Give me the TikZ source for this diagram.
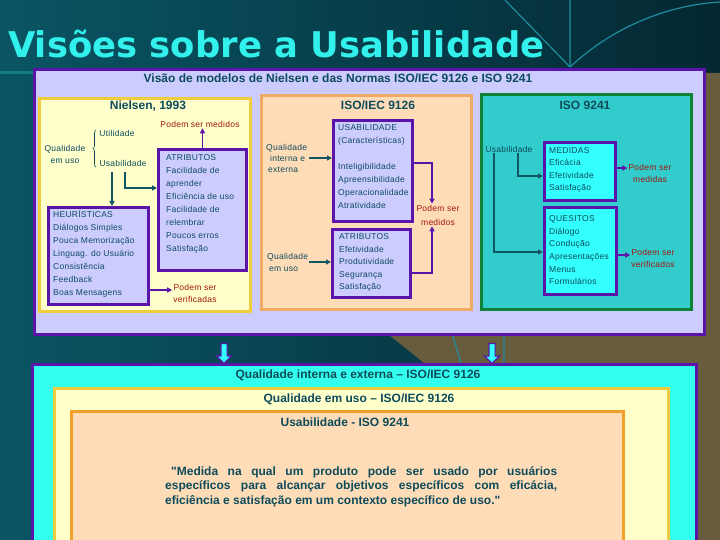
\documentclass[tikz,border=0pt]{standalone}
\usepackage{fontspec}
\setmainfont{Liberation Sans}
\newfontfamily\titlefont{DejaVu Sans}
\newfontfamily\boxfont[LetterSpace=3]{Liberation Sans}
\newcommand\aspas{\XeTeXglyph\XeTeXcharglyph34 }
\usetikzlibrary{arrows.meta,positioning,shapes.arrows,decorations.pathreplacing}
\definecolor{bgteal}{RGB}{10,85,100}
\definecolor{bgdark}{RGB}{4,40,50}
\definecolor{bgolive}{RGB}{104,92,62}
\definecolor{decoline}{RGB}{30,140,160}
\definecolor{titlecyan}{RGB}{50,240,235}
\definecolor{boxpurple}{RGB}{90,20,170}
\definecolor{lavender}{RGB}{204,204,255}
\definecolor{nyellow}{RGB}{240,205,60}
\definecolor{lightyellow}{RGB}{255,255,204}
\definecolor{peachline}{RGB}{240,170,100}
\definecolor{peach}{RGB}{255,220,184}
\definecolor{isogreen}{RGB}{16,130,56}
\definecolor{isoteal}{RGB}{51,204,204}
\definecolor{brightcyan}{RGB}{51,255,255}
\definecolor{aqua}{RGB}{51,255,238}
\definecolor{deeporange}{RGB}{240,160,40}
\definecolor{tealtxt}{RGB}{13,75,90}
\definecolor{arrteal}{RGB}{17,85,100}
\definecolor{podemred}{RGB}{160,20,10}

\begin{document}
\begin{tikzpicture}[x=1pt, y=-1pt,
  frame/.style={draw, line width=3pt, anchor=north west, inner sep=0pt},
  boxtxt/.style={anchor=north west, inner sep=0pt, align=left, text=tealtxt, font=\boxfont\fontsize{8.5}{#1}\selectfont},
  boxtxt/.default=13,
  lbl/.style={inner sep=1pt, align=center, text=tealtxt, font=\boxfont\fontsize{8.5}{#1}\selectfont},
  lbl/.default=12,
  podem/.style={lbl=#1, text=podemred},
  podem/.default=12,
  head/.style={text=tealtxt, font=\bfseries\fontsize{12}{14}\selectfont},
  tarr/.style={-{Triangle[length=5pt,width=5pt]}, line width=1.8pt, arrteal},
  parr/.style={-{Triangle[length=5pt,width=5pt]}, line width=1.8pt, boxpurple},
  blockarr/.style={single arrow, draw=boxpurple, fill=brightcyan, line width=1.2pt, shape border rotate=270, minimum height=20pt, inner sep=2.5pt, single arrow head extend=4.5pt}]
\useasboundingbox (0,0) rectangle (720,540);
\clip (0,0) rectangle (720,540);
\shade[left color=bgteal, right color=bgdark] (0,0) rectangle (720,540);
\fill[bgolive] (383,330) -- (700,330) -- (700,73) -- (720,73) -- (720,540) -- (644,540) -- cycle;
\fill[bgteal!75!titlecyan] (0,71) rectangle (33,74);
\draw[decoline, line width=1.2pt] (505,0) -- (570,67) (570,0) -- (570,67)
  (570,67) .. controls (615,25) and (670,5) .. (720,2)
  (452,333) -- (461,363) (504,333) -- (504,363);
\node[anchor=base west, inner sep=0pt, text=titlecyan, font=\titlefont\bfseries\fontsize{35.4}{40}\selectfont] (titulo) at (8,58) {Visões sobre a Usabilidade};

\node[frame, draw=boxpurple, fill=lavender, minimum width=670, minimum height=265] (visao) at (33,68) {};
\node[head] (visaotit) at (338,78) {Visão de modelos de Nielsen e das Normas ISO/IEC 9126 e ISO 9241};

\node[frame, draw=nyellow, fill=lightyellow, minimum width=211, minimum height=213] (nielsen) at (38,97) {};
\node[head] (nielsentit) at (148,106) {Nielsen, 1993};
\node[frame, draw=boxpurple, fill=lavender, minimum width=88, minimum height=121] (atr) at (157,148) {};
\node[frame, draw=boxpurple, fill=lavender, minimum width=100, minimum height=97] (heu) at (47,206) {};
\node[boxtxt] (atrtxt) at (166,154.5) {ATRIBUTOS\\Facilidade de\\aprender\\Eficiência de uso\\Facilidade de\\relembrar\\Poucos erros\\Satisfação};
\node[boxtxt] (heutxt) at (53,209.5) {HEURÍSTICAS\\Diálogos Simples\\Pouca Memorização\\Linguag. do Usuário\\Consistência\\Feedback\\Boas Mensagens};
\node[podem] (med1) at (200,124) {Podem ser medidos};
\node[lbl] (util) at (117,133) {Utilidade};
\node[lbl] (qual1) at (65,154) {Qualidade\\em uso};
\node[lbl] (usab1) at (123,163) {Usabilidade};
\node[podem] (verif1) at (195,293) {Podem ser\\verificadas};
\draw[decorate, decoration={brace, amplitude=3pt}, tealtxt, line width=0.6pt] (96,167) -- (96,130);
\draw[tarr] ([xshift=-11pt,yshift=-5pt]usab1.south) -- ([xshift=-11pt]usab1.south |- heu.north);
\draw[tarr] ([xshift=2pt,yshift=-5pt]usab1.south) |- (atr.west |- 0,188);
\draw[parr] (atr.north) -- (atr.north |- med1.south);
\draw[parr] (heu.east |- 0,290) -- (verif1.west |- 0,290);

\node[frame, draw=peachline, fill=peach, minimum width=210, minimum height=214] (iec) at (260,94) {};
\node[head] (iectit) at (378,105) {ISO/IEC 9126};
\node[frame, draw=boxpurple, fill=lavender, minimum width=79, minimum height=101] (usabbox) at (332,119) {};
\node[frame, draw=boxpurple, fill=lavender, minimum width=78, minimum height=68] (atr2) at (331,228) {};
\node[boxtxt] (usabtxt) at (338,124.5) {USABILIDADE\\(Características)\\[13pt]Inteligibilidade\\Apreensibilidade\\Operacionalidade\\Atratividade};
\node[boxtxt=12.5] (atr2txt) at (339,233.5) {ATRIBUTOS\\Efetividade\\Produtividade\\Segurança\\Satisfação};
\node[lbl=11, align=left, anchor=north west] (qie) at (265,143) {Qualidade\\\hspace*{4pt}interna e\\\hspace*{2pt}externa};
\node[lbl, align=left, anchor=north west] (quso) at (266,252.5) {Qualidade\\\hspace*{2pt}em uso};
\node[podem=14] (med2) at (438,215) {Podem ser\\medidos};
\draw[tarr] ([xshift=1pt]qie.east |- 0,158) -- (usabbox.west |- 0,158);
\draw[tarr] (quso.east |- 0,262) -- (atr2.west |- 0,262);
\draw[parr] (usabbox.east |- 0,163) -| ([xshift=-6pt]med2.north);
\draw[parr] (atr2.east |- 0,273) -| ([xshift=-6pt]med2.south);

\node[frame, draw=isogreen, fill=isoteal, minimum width=210, minimum height=215] (iso) at (480,93) {};
\node[head] (isotit) at (585,105) {ISO 9241};
\node[frame, draw=boxpurple, fill=brightcyan, minimum width=71, minimum height=58] (medbox) at (543,141) {};
\node[frame, draw=boxpurple, fill=brightcyan, minimum width=72, minimum height=87] (quebox) at (543,206) {};
\node[boxtxt=12.3] (medtxt) at (549,147.5) {MEDIDAS\\Eficácia\\Efetividade\\Satisfação};
\node[boxtxt=12.6] (quetxt) at (549,215.5) {QUESITOS\\Diálogo\\Condução\\Apresentações\\Menus\\Formulários};
\node[lbl] (usab2) at (509,149) {Usabilidade};
\node[podem] (med3) at (650,173) {Podem ser\\medidas};
\node[podem] (verif3) at (653,258) {Podem ser\\verificados};
\draw[tarr, line width=1.5pt] ([xshift=-15pt]usab2.south) |- (quebox.west |- 0,252);
\draw[tarr, line width=1.5pt] ([xshift=9pt]usab2.south) |- (medbox.west |- 0,176);
\draw[parr] (medbox.east |- 0,168) -- (med3.west |- 0,168);
\draw[parr] (quebox.east |- 0,255) -- (verif3.west |- 0,255);

\node[blockarr] (seta1) at (224,352) {};
\node[blockarr] (seta2) at (492,352) {};
\node[frame, draw=boxpurple, fill=aqua, minimum width=664, minimum height=200] (qie2) at (31,363) {};
\node[frame, draw=nyellow, fill=lightyellow, minimum width=614, minimum height=180] (quso2) at (53,387) {};
\node[frame, draw=deeporange, fill=peach, minimum width=552, minimum height=160] (usab3) at (70,410) {};
\node[head] (qie2tit) at (358,375) {Qualidade interna e externa – ISO/IEC 9126};
\node[head] (quso2tit) at (359,399) {Qualidade em uso – ISO/IEC 9126};
\node[head] (usab3tit) at (345,422) {Usabilidade - ISO 9241};
\node[anchor=north west, inner sep=0pt, text width=392pt, align=justify, text=tealtxt, font=\bfseries\fontsize{12}{14.5}\selectfont] (citacao) at (165,466) {\hspace*{6pt}\aspas Medida na qual um produto pode ser usado por usuários\linebreak específicos para alcançar objetivos específicos com eficácia,\linebreak eficiência e satisfação em um contexto específico de uso.\aspas};
\end{tikzpicture}
\end{document}
